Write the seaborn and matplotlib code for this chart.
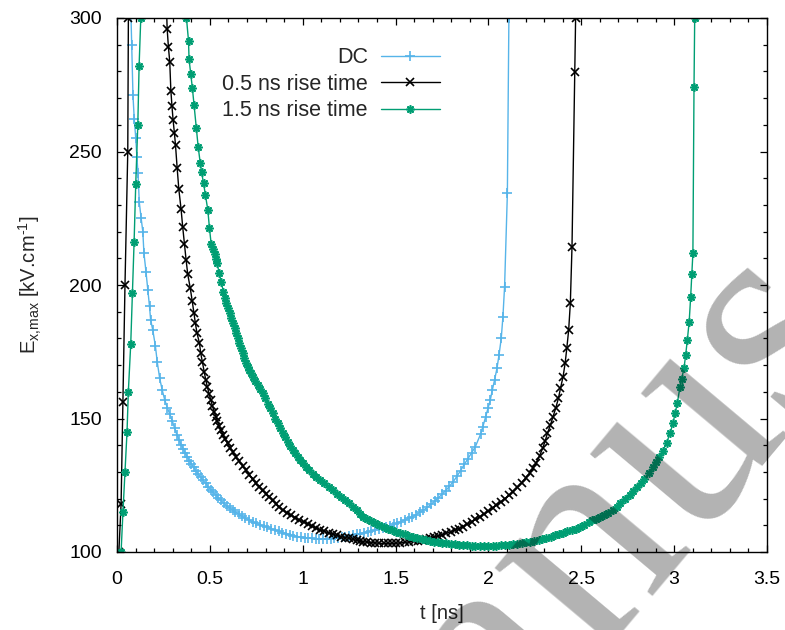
import matplotlib
matplotlib.use("Agg")
import matplotlib.pyplot as plt
from matplotlib.ticker import MultipleLocator
import seaborn as sns
import pandas as pd

# Peak field E_x,max (kV/cm) versus time (ns) for the three applied waveforms
t_dc = [0.072, 0.079, 0.086, 0.093, 0.101, 0.107, 0.113, 0.120, 0.130, 0.139,
        0.145, 0.156, 0.166, 0.175, 0.181, 0.193, 0.207, 0.217, 0.230, 0.244,
        0.257, 0.271, 0.285, 0.298, 0.310, 0.322, 0.334, 0.346, 0.357, 0.368,
        0.379, 0.390, 0.401, 0.412, 0.424, 0.437, 0.451, 0.464, 0.478, 0.491,
        0.505, 0.518, 0.532, 0.546, 0.560, 0.575, 0.590, 0.606, 0.622, 0.638,
        0.655, 0.672, 0.690, 0.712, 0.730, 0.750, 0.770, 0.790, 0.810, 0.830,
        0.850, 0.870, 0.890, 0.910, 0.930, 0.950, 0.970, 0.990, 1.010, 1.030,
        1.050, 1.070, 1.090, 1.110, 1.130, 1.150, 1.170, 1.190, 1.210, 1.230,
        1.250, 1.270, 1.290, 1.310, 1.330, 1.350, 1.370, 1.390, 1.410, 1.430,
        1.450, 1.470, 1.490, 1.510, 1.530, 1.550, 1.570, 1.590, 1.610, 1.630,
        1.650, 1.670, 1.690, 1.710, 1.730, 1.750, 1.770, 1.790, 1.810, 1.830,
        1.850, 1.870, 1.890, 1.910, 1.930, 1.958, 1.970, 1.985, 1.997, 2.010,
        2.021, 2.033, 2.046, 2.057, 2.069, 2.078, 2.087, 2.102, 2.110, 2.113]
e_dc = [310, 290, 271, 262, 255, 248, 242, 231, 225, 220,
        212, 205, 198, 192, 187, 183, 177, 171, 165, 160.5,
        157, 154, 151.5, 149, 146.5, 144, 142, 140.2, 138.5, 137,
        135.5, 134.2, 133, 131.7, 130.5, 129.2, 128, 126.8, 125.7, 124.5,
        123.3, 122.3, 121.3, 120.3, 119.3, 118.3, 117.3, 116.5, 115.7, 114.9,
        114.2, 113.4, 112.7, 112.0, 111.3, 110.7, 110.2, 109.7, 109.2, 108.7,
        108.2, 107.8, 107.3, 106.9, 106.5, 106.1, 105.8, 105.6, 105.4, 105.2,
        105.1, 105.0, 104.9, 104.9, 104.9, 105.0, 105.1, 105.3, 105.5, 105.8,
        106.0, 106.3, 106.6, 106.9, 107.2, 107.5, 107.8, 108.2, 108.6, 109.0,
        109.4, 109.8, 110.3, 110.8, 111.4, 112.0, 112.6, 113.2, 114.0, 114.8,
        115.7, 116.7, 117.8, 119.0, 120.3, 121.6, 123.0, 124.6, 126.3, 128.3,
        130.5, 132.8, 135.0, 137.2, 139.5, 144.2, 146.9, 150.7, 153.8, 156.9,
        160.7, 164.4, 168.8, 173.8, 180.0, 188.1, 199.4, 234.3, 300, 320]

t_05 = [0.010, 0.022, 0.032, 0.043, 0.058, 0.061, 0.064,
        0.262, 0.266, 0.270, 0.277, 0.284, 0.290, 0.296, 0.302, 0.309, 0.315,
        0.324, 0.333, 0.345, 0.354, 0.363, 0.372, 0.381, 0.394, 0.405, 0.414,
        0.422, 0.431, 0.444, 0.451, 0.460, 0.469, 0.478, 0.487, 0.496, 0.505,
        0.514, 0.523, 0.532, 0.541, 0.550, 0.559, 0.571, 0.583, 0.595, 0.610,
        0.625, 0.640, 0.658, 0.676, 0.694, 0.712, 0.730, 0.748, 0.766, 0.784,
        0.802, 0.820, 0.838, 0.856, 0.874, 0.892, 0.914, 0.937, 0.960, 0.982,
        1.005, 1.027, 1.050, 1.072, 1.094, 1.116, 1.139, 1.161, 1.183, 1.206,
        1.228, 1.251, 1.270, 1.290, 1.306, 1.323, 1.346, 1.370, 1.390, 1.410,
        1.435, 1.460, 1.482, 1.503, 1.526, 1.550, 1.575, 1.600, 1.620, 1.643,
        1.663, 1.683, 1.706, 1.730, 1.750, 1.773, 1.796, 1.820, 1.840, 1.862,
        1.886, 1.910, 1.930, 1.953, 1.976, 2.000, 2.022, 2.043, 2.066, 2.090,
        2.110, 2.132, 2.156, 2.180, 2.200, 2.222, 2.240, 2.258, 2.275, 2.292,
        2.305, 2.318, 2.334, 2.348, 2.362, 2.377, 2.388, 2.402, 2.413, 2.422,
        2.432, 2.441, 2.450, 2.465, 2.470, 2.473]
e_05 = [100, 118, 156, 200, 250, 300, 330,
        330, 305, 296, 289, 283.6, 272.8, 267, 261.8, 257, 252.4,
        243.7, 235.8, 228.4, 221.6, 215.4, 209.4, 204, 199, 194, 189.6,
        185.7, 181.9, 178.2, 174.4, 171, 167.6, 164.4, 161.7, 159.2, 156.9,
        154.7, 152.6, 150.7, 148.9, 147.2, 145.7, 143.9, 142.2, 140.7, 139,
        137.3, 135.7, 134, 132.3, 130.7, 129, 127.3, 125.7, 124.4, 123.1,
        121.9, 120.7, 119.4, 118.1, 116.9, 115.7, 114.7, 113.8, 112.9, 112.0,
        111.2, 110.4, 109.6, 108.9, 108.3, 107.7, 107.2, 106.7, 106.2, 105.8,
        105.4, 105.1, 104.7, 104.4, 104.1, 103.9, 103.7, 103.5, 103.4, 103.3,
        103.2, 103.2, 103.2, 103.3, 103.4, 103.6, 103.8, 104.1, 104.3, 104.6,
        104.9, 105.2, 105.6, 106.0, 106.5, 107.0, 107.6, 108.2, 108.8, 109.5,
        110.4, 111.3, 112.2, 113.2, 114.2, 115.3, 116.4, 117.6, 118.8, 120.0,
        121.2, 122.6, 124.2, 126.0, 127.7, 129.5, 131.4, 133.5, 136.0, 138.8,
        141.5, 144.5, 147.6, 150.7, 153.8, 157.6, 161.3, 165.7, 170.7, 176.3,
        183.1, 193.1, 214.3, 279.8, 300, 320]

t_15 = [0.022, 0.032, 0.043, 0.054, 0.061, 0.074, 0.083, 0.092, 0.101, 0.112,
        0.119, 0.128, 0.132,
        0.370, 0.374, 0.385, 0.388, 0.397, 0.406, 0.415, 0.428, 0.437, 0.448,
        0.455, 0.466, 0.476, 0.489, 0.498, 0.507, 0.516, 0.525, 0.532, 0.539,
        0.550, 0.561, 0.573, 0.580, 0.588, 0.597, 0.606, 0.615, 0.624, 0.633,
        0.642, 0.650, 0.658, 0.667, 0.676, 0.685, 0.694, 0.703, 0.712, 0.721,
        0.730, 0.743, 0.757, 0.770, 0.784, 0.797, 0.811, 0.824, 0.838, 0.851,
        0.865, 0.878, 0.892, 0.905, 0.919, 0.932, 0.946, 0.959, 0.972, 0.986,
        0.999, 1.018, 1.036, 1.054, 1.072, 1.094, 1.116, 1.139, 1.161, 1.183,
        1.206, 1.228, 1.251, 1.270, 1.290, 1.306, 1.323, 1.346, 1.370, 1.390,
        1.413, 1.436, 1.460, 1.482, 1.503, 1.526, 1.550, 1.572, 1.593, 1.616,
        1.640, 1.662, 1.683, 1.706, 1.730, 1.752, 1.773, 1.796, 1.820, 1.840,
        1.862, 1.886, 1.910, 1.930, 1.953, 1.976, 2.000, 2.022, 2.043, 2.066,
        2.090, 2.110, 2.132, 2.156, 2.180, 2.200, 2.222, 2.246, 2.270, 2.290,
        2.312, 2.336, 2.360, 2.380, 2.400, 2.425, 2.450, 2.470, 2.492, 2.516,
        2.540, 2.560, 2.580, 2.600, 2.620, 2.645, 2.670, 2.690, 2.710, 2.735,
        2.760, 2.780, 2.798, 2.820, 2.840, 2.864, 2.886, 2.904, 2.920, 2.940,
        2.959, 2.978, 2.994, 3.005, 3.017, 3.031, 3.040, 3.053, 3.062, 3.071,
        3.081, 3.089, 3.095, 3.101, 3.107, 3.111, 3.113]
e_15 = [100, 115, 130, 145, 160, 178, 197, 216, 238, 260,
        282, 300, 320,
        320, 300, 291.5, 284.5, 279, 273.7, 267.4, 258.7, 251.8, 245.8,
        242.4, 238.1, 233.7, 228.1, 221.2, 215.4, 213.5, 211.6, 209.8, 208.1,
        204.5, 201.2, 197.5, 195.3, 193.1, 191.2, 189.4, 187.5, 185.7, 183.8,
        181.9, 180, 178.2, 176.3, 174.5, 172.6, 170.7, 169.4, 168.2, 167,
        165.7, 164.1, 162.5, 161, 159.4, 157.5, 155.6, 153.8, 151.9, 150,
        148.2, 146.3, 144.5, 142.9, 141.3, 139.7, 138.2, 136.9, 135.6, 134.4,
        133.2, 131.9, 130.6, 129.4, 128.2, 127.0, 125.7, 124.5, 123.2, 121.9,
        120.6, 119.4, 118.2, 116.9, 115.6, 114.4, 113.2, 112.3, 111.5, 110.8,
        110.1, 109.4, 108.8, 108.2, 107.6, 107.1, 106.6, 106.1, 105.7, 105.3,
        104.9, 104.5, 104.2, 103.9, 103.7, 103.5, 103.3, 103.1, 102.9, 102.7,
        102.6, 102.5, 102.4, 102.3, 102.2, 102.2, 102.2, 102.3, 102.4, 102.5,
        102.6, 102.7, 102.9, 103.1, 103.4, 103.6, 103.9, 104.2, 104.5, 104.8,
        105.2, 105.7, 106.3, 106.8, 107.3, 107.8, 108.3, 108.8, 109.4, 110.2,
        111.2, 111.8, 112.3, 113.0, 113.8, 114.7, 115.7, 117.0, 118.5, 120.0,
        121.5, 122.9, 124.3, 125.8, 127.5, 129.6, 131.8, 133.6, 135.5, 138.0,
        140.8, 144.5, 148.3, 152, 155.7, 161.7, 164.7, 168.8, 173.8, 179.4,
        186.3, 195.6, 204, 212, 274.2, 300, 320]

labels = ["DC", "0.5 ns rise time", "1.5 ns rise time"]
colors = ["#56b4e9", "#000000", "#009e73"]
marker_shapes = ["+", "x", (8, 2, 0)]
marker_sizes = [7, 5.5, 6]

x_ticks = [0, 0.5, 1, 1.5, 2, 2.5, 3, 3.5]
y_ticks = [100, 150, 200, 250, 300]

sns.set_style("ticks")
plt.rcParams["font.family"] = ["Liberation Sans", "DejaVu Sans"]
plt.rcParams["mathtext.fontset"] = "custom"
plt.rcParams["mathtext.rm"] = "Liberation Sans"
plt.rcParams["mathtext.it"] = "Liberation Sans:italic"

fig = plt.figure(figsize=(7.85, 6.30), dpi=100)
ax = fig.add_axes([117 / 785, 1 - 552 / 630, 650 / 785, 534 / 630])

series = [(t_dc, e_dc), (t_05, e_05), (t_15, e_15)]
for (t, e), lab, col, mk, ms in zip(series, labels, colors, marker_shapes, marker_sizes):
    df = pd.DataFrame({"t": t, "E": e})
    sns.lineplot(data=df, x="t", y="E", sort=False, estimator=None, ax=ax,
                 color=col, lw=1.0, marker=mk, markersize=ms,
                 markeredgewidth=1.2, markeredgecolor=col, label=lab)

ax.set_xlim(0, 3.5)
ax.set_ylim(100, 300)
ax.set_xticks(x_ticks)
ax.set_xticklabels([f"{v:g}" for v in x_ticks])
ax.set_yticks(y_ticks)
ax.xaxis.set_minor_locator(MultipleLocator(0.1))
ax.yaxis.set_minor_locator(MultipleLocator(10))
ax.tick_params(which="both", direction="in", top=True, right=True,
               labelsize=14, width=0.9, colors="black")
ax.tick_params(axis="x", which="both", pad=14)
ax.tick_params(axis="y", which="both", pad=11)
ax.tick_params(which="major", length=5)
ax.tick_params(which="minor", length=2.6)
for s in ax.spines.values():
    s.set_visible(True)
    s.set_linewidth(1.0)
    s.set_color("black")

ax.set_xlabel("t [ns]", fontsize=14.5, labelpad=11)
ax.set_ylabel(r"E$_{\text{x,max}}$ [kV.cm$^{\text{-1}}$]", fontsize=14.5,
              labelpad=18)

leg = ax.legend(loc="upper right", bbox_to_anchor=(0.497, 0.945), frameon=False,
                markerfirst=False, numpoints=1, handlelength=2.75,
                handletextpad=0.6, labelspacing=0.25, borderpad=0,
                borderaxespad=0, fontsize=15.5)
leg._legend_box._children[-1]._children[0].align = "right"

# Diagonal watermark lettering over the plot area
fig.text(778 / 785, 1 - 436 / 630, "Manuscript", fontsize=218,
         family="Liberation Serif", color="black", alpha=0.3,
         rotation=50, rotation_mode="anchor", ha="center", va="baseline",
         zorder=10)

fig.savefig("out.png", dpi=100)
